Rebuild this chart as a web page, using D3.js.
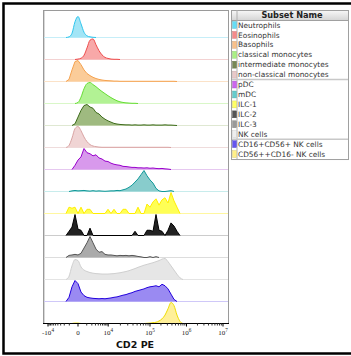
<!DOCTYPE html>
<html><head><meta charset="utf-8">
<script src="https://cdn.jsdelivr.net/npm/d3@7"></script>
<style>html,body{margin:0;padding:0;background:#fff;}svg{display:block;}</style>
</head><body>
<script>
// ---------- DATA ----------
const subsets = ["Neutrophils","Eosinophils","Basophils","classical monocytes","intermediate monocytes","non-classical monocytes","pDC","mDC","ILC-1","ILC-2","ILC-3","NK cells","CD16+CD56+ NK cells","CD56++CD16- NK cells"];
const axisTicks = [-1e4, 0, 1e4, 1e5, 1e6, 1e7];
const axisTickExp = ["4", "", "4", "5", "6", "7"];
const axisTickBase = ["-10", "0", "10", "10", "10", "10"];
const axisTitle = "CD2 PE";
const legendTitle = "Subset Name";
// relative counts per bin (50 bins, evenly spaced on the display axis)
const neutrophils = [0,0,0,0,3,20,75,100,65,25, 8,3,1,0,0,0,0,0,0,0, 0,0,0,0,0,0,0,0,0,0, 0,0,0,0,0,0,0,0,0,0, 0,0,0,0,0,0,0,0,0,0];
const eosinophils = [0,0,0,0,0,0,0,2,6,20, 55,92,98,70,42,22,10,5,2,1, 1,0,0,0,0,0,0,0,0,0, 0,0,0,0,0,0,0,0,0,0, 0,0,0,0,0,0,0,0,0,0];
const basophils = [0,0,0,0,10,55,95,100,80,55, 38,28,20,14,10,7,5,4,3,2, 2,1,1,1,1,1,1,1,1,1, 1,1,1,1,1,1,1,1,1,1, 0,0,0,0,0,0,0,0,0,0];
const classicalMono = [0,0,0,0,0,0,0,5,30,70, 95,100,90,80,68,57,47,37,28,20, 13,8,5,3,2,1,1,0,0,0, 0,0,0,0,0,0,0,0,0,0, 0,0,0,0,0,0,0,0,0,0];
const intermediateMono = [0,0,0,0,0,0,8,40,72,95, 100,88,82,62,55,40,30,22,16,10, 7,5,4,3,3,2,3,2,2,3, 2,2,3,2,2,2,3,2,2,1, 0,0,0,0,0,0,0,0,0,0];
const nonClassicalMono = [0,0,0,0,10,45,90,100,80,50, 28,14,7,4,2,1,1,1,1,1, 1,1,1,1,1,1,1,1,1,1, 1,1,1,1,1,1,1,1,0,0, 0,0,0,0,0,0,0,0,0,0];
const pDC = [0,0,0,0,0,0,20,45,60,100, 80,75,65,70,55,50,40,38,30,25, 22,20,15,14,12,10,10,8,8,7, 8,6,7,5,4,5,3,2,0,0, 0,0,0,0,0,0,0,0,0,0];
const mDC = [0,0,0,0,0,3,5,3,4,5, 3,2,4,2,3,2,1,2,3,3, 5,4,8,12,20,30,45,60,80,100, 75,55,40,15,3,0,0,2,4,0, 0,0,0,0,0,0,0,0,0,0];
const ilc1 = [0,0,0,0,30,25,30,0,30,0, 20,20,0,0,0,0,0,20,0,20, 0,0,20,20,0,0,0,30,0,0, 45,30,55,70,40,65,75,50,100,60, 30,0,0,0,0,0,0,0,0,0];
const ilc2 = [0,0,0,0,20,40,100,30,25,0, 0,35,0,0,0,0,0,0,0,0, 0,0,0,0,0,0,20,0,0,0, 25,25,20,100,25,20,0,25,60,45, 20,0,0,0,0,0,0,0,0,0];
const ilc3 = [0,0,0,0,10,12,15,12,20,45, 70,100,70,40,25,28,15,12,12,10, 8,10,9,10,8,10,8,5,3,0, 0,4,0,4,0,0,0,0,0,0, 0,0,0,0,0,0,0,0,0,0];
const nkCells = [0,0,0,0,15,65,95,90,60,45, 38,33,30,28,27,26,26,26,27,28, 30,32,35,38,42,47,52,58,63,68, 72,76,80,85,90,97,100,85,65,45, 25,8,0,0,0,0,0,0,0,0];
const cd16nk = [0,0,0,0,20,70,100,85,45,28, 20,17,15,14,13,14,13,15,17,20, 22,26,30,33,38,42,48,52,56,60, 66,70,72,75,70,82,75,60,35,10, 0,0,0,0,0,0,0,0,0,0];
const cd56nk = [0,0,0,0,0,0,2,2,0,0, 0,0,0,0,0,0,0,0,0,0, 0,0,0,0,0,0,0,0,0,0, 1,2,4,6,12,22,40,70,100,85, 40,10,0,0,0,0,0,0,0,0];
const seriesValues = [neutrophils,eosinophils,basophils,classicalMono,intermediateMono,nonClassicalMono,pDC,mDC,ilc1,ilc2,ilc3,nkCells,cd16nk,cd56nk];

// ---------- STYLES ----------
const strokeColors = ["#2ec6ee","#ee4a4a","#f5a24f","#66dd33","#3d6b1a","#d9a3a3","#9900cc","#119999","#ffee00","#000000","#555555","#cfcfcf","#2200dd","#eedd00"];
const fillColors   = ["#a2e5f6","#f8a8a8","#fbcc99","#b2f294","#9fba80","#f0d4d4","#d899ec","#88cccc","#ffff55","#222222","#aaaaaa","#e6e6e6","#9a8af2","#fff099"];
const baseColors   = ["#c6eef8","#f3d2d2","#fbe2c8","#d9f7c8","#dfe8d2","#efdcdc","#e6c8f0","#c8ecec","#fff7a0","#cccccc","#dddddd","#e4e4e4","#cfc8f8","#fff3b0"];
const swatchColors = ["#66ddf5","#f58a8a","#f8c08a","#aaf084","#778855","#e8c8c8","#cc66ee","#66cccc","#ffff66","#555555","#999999","#eeeeee","#6655ee","#fff088"];
const curveKinds = ["smooth","smooth","lin","smooth","lin","smooth","lin","lin","lin","lin","lin","smooth","lin","smooth"];

// ---------- LAYOUT ----------
const W = 351, H = 356;
const plot = {x0: 43, x1: 228, y0: 10, y1: 323};
const svg = d3.select("body").append("svg").attr("width", W).attr("height", H)
  .style("font-family", "'DejaVu Sans', Verdana, sans-serif");

svg.append("rect").attr("x", 3.5).attr("y", 3.5).attr("width", 360).attr("height", 350)
  .attr("fill", "#fff").attr("stroke", "#000").attr("stroke-width", 2.5);

const x = d3.scaleSymlog().constant(1000).domain(axisTicks).range([47.5, 77.5, 107.7, 149.5, 186, 222.5]);
const binVals = d3.range(50).map(i => x.invert(57 + 3 * i));
const rowY = d3.scalePoint().domain(subsets).range([37, 323]);
const h = d3.scaleLinear().domain([0, 100]).range([0, 21]);

// plot frame
svg.append("rect").attr("x", plot.x0 + 0.5).attr("y", plot.y0 + 0.5)
  .attr("width", plot.x1 - plot.x0).attr("height", plot.y1 - plot.y0)
  .attr("fill", "#fff").attr("stroke", "#9a9a9a");
svg.append("line").attr("x1", plot.x0 + 1.5).attr("x2", plot.x0 + 1.5).attr("y1", plot.y0 + 1).attr("y2", plot.y1)
  .attr("stroke", "#d8d8d8");

svg.append("clipPath").attr("id", "clip").append("rect")
  .attr("x", plot.x0 + 1).attr("y", plot.y0 + 1).attr("width", plot.x1 - plot.x0 - 1).attr("height", plot.y1 - plot.y0);

const g = svg.append("g").attr("clip-path", "url(#clip)");

subsets.forEach((name, k) => {
  const base = rowY(name);
  g.append("line").attr("x1", plot.x0).attr("x2", plot.x1 + 1).attr("y1", base + 0.5).attr("y2", base + 0.5)
    .attr("stroke", baseColors[k]).attr("stroke-width", 1);
  const vals = seriesValues[k];
  let first = vals.findIndex(v => v > 0), last = vals.length - 1 - [...vals].reverse().findIndex(v => v > 0);
  first = Math.max(0, first - 1); last = Math.min(vals.length - 1, last + 1);
  const pts = [];
  for (let i = first; i <= last; i++) pts.push({v: binVals[i], c: vals[i]});
  const curve = curveKinds[k] === "smooth" ? d3.curveMonotoneX : d3.curveLinear;
  const area = d3.area().x(d => x(d.v)).y0(base + 0.5).y1(d => base + 0.5 - h(d.c)).curve(curve);
  const line = d3.line().x(d => x(d.v)).y(d => base + 0.5 - h(d.c)).curve(curve);
  g.append("path").attr("d", area(pts)).attr("fill", fillColors[k]).attr("stroke", "none");
  g.append("path").attr("d", line(pts)).attr("fill", "none").attr("stroke", strokeColors[k]).attr("stroke-width", 1);
});

// axis line
svg.append("line").attr("x1", plot.x0).attr("x2", plot.x1 + 1).attr("y1", plot.y1 + 0.5).attr("y2", plot.y1 + 0.5)
  .attr("stroke", "#000").attr("stroke-width", 1);

// minor ticks
const minor = [];
d3.range(-9000, 10000, 1000).forEach(v => { if (v !== 0) minor.push(v); });
[1e4, 1e5, 1e6].forEach(d => d3.range(2, 10).forEach(m => minor.push(d * m)));
const minorAxis = d3.axisBottom(x).tickValues(minor).tickSize(2).tickFormat("");
const gm = svg.append("g").attr("transform", `translate(0,${plot.y1 + 0.5})`).call(minorAxis);
gm.select(".domain").remove();
gm.selectAll("line").attr("stroke", "#333");

const majorAxis = d3.axisBottom(x).tickValues(axisTicks).tickSize(3).tickFormat("");
const ga = svg.append("g").attr("transform", `translate(0,${plot.y1 + 0.5})`).call(majorAxis);
ga.select(".domain").remove();
ga.selectAll("line").attr("stroke", "#000");
ga.selectAll(".tick").each(function(d, i) {
  const t = d3.select(this).append("text").attr("y", 11).attr("fill", "#222")
    .attr("text-anchor", "middle").style("font-family", "'Liberation Serif', 'DejaVu Serif', serif").style("font-size", "7px");
  t.append("tspan").text(axisTickBase[i]);
  if (axisTickExp[i]) t.append("tspan").attr("dy", -3).style("font-size", "5.2px").text(axisTickExp[i]);
});

svg.append("text").attr("x", 135).attr("y", 347.5).attr("text-anchor", "middle")
  .style("font-family", "'DejaVu Sans', Verdana, sans-serif").style("font-weight", "bold").style("font-size", "9.5px")
  .attr("fill", "#111").text(axisTitle);

// ---------- LEGEND TABLE ----------
const lg = {x0: 231, x1: 348, y0: 10, head: 10, row: 9.93};
const lgy = d3.scaleBand().domain(subsets).range([lg.y0 + lg.head, lg.y0 + lg.head + lg.row * subsets.length]);
const defs = svg.append("defs");
const grad = defs.append("linearGradient").attr("id", "hdr").attr("x1", 0).attr("x2", 0).attr("y1", 0).attr("y2", 1);
grad.append("stop").attr("offset", "0%").attr("stop-color", "#f6f6f6");
grad.append("stop").attr("offset", "100%").attr("stop-color", "#d6d6d6");
const lgH = lg.head + lg.row * subsets.length;
svg.append("rect").attr("x", lg.x0 + 0.5).attr("y", lg.y0 + 0.5).attr("width", lg.x1 - lg.x0).attr("height", lgH)
  .attr("fill", "#fff").attr("stroke", "#a0a0a0");
svg.append("rect").attr("x", lg.x0 + 1).attr("y", lg.y0 + 1).attr("width", lg.x1 - lg.x0 - 1).attr("height", lg.head - 1)
  .attr("fill", "url(#hdr)");
svg.append("line").attr("x1", lg.x0).attr("x2", lg.x1).attr("y1", lg.y0 + lg.head + 0.5).attr("y2", lg.y0 + lg.head + 0.5)
  .attr("stroke", "#a0a0a0");
svg.append("line").attr("x1", lg.x0 + 6).attr("x2", lg.x0 + 6).attr("y1", lg.y0).attr("y2", lg.y0 + lgH)
  .attr("stroke", "#b0b0b0");
svg.append("text").attr("x", 292).attr("y", lg.y0 + 8).attr("text-anchor", "middle")
  .style("font-weight", "bold").style("font-size", "8.2px").attr("fill", "#222").text(legendTitle);
[5, 11].forEach(k => {
  svg.append("line").attr("x1", lg.x0 + 1).attr("x2", lg.x1).attr("y1", lgy(subsets[k]) + lg.row).attr("y2", lgy(subsets[k]) + lg.row)
    .attr("stroke", "#c8c8c8").attr("stroke-width", 1.5);
});
subsets.forEach((name, k) => {
  const top = lgy(name);
  svg.append("rect").attr("x", lg.x0 + 1.5).attr("y", top + 1.5).attr("width", 4).attr("height", lg.row - 3)
    .attr("fill", swatchColors[k]).attr("stroke", d3.color(swatchColors[k]).darker(0.6)).attr("stroke-width", 0.4);
  svg.append("text").attr("x", lg.x0 + 7).attr("y", top + 7.6)
    .style("font-size", "7.4px").attr("fill", "#333").text(name);
});
</script>
</body></html>
